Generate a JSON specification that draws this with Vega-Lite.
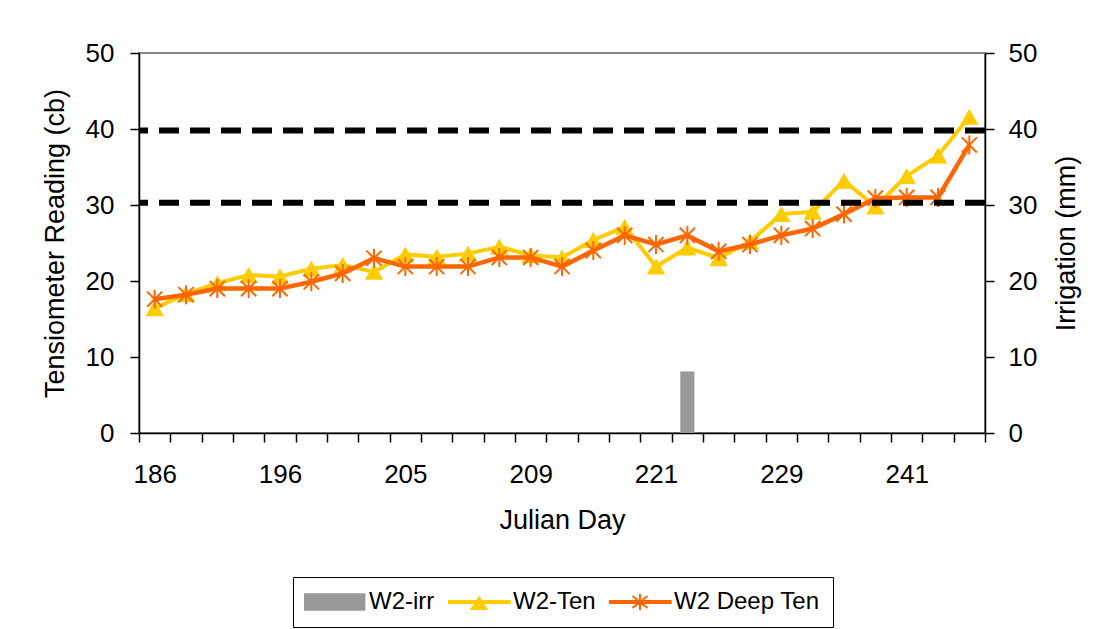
{
  "$schema": "https://vega.github.io/schema/vega-lite/v6.json",
  "width": 846,
  "height": 380,
  "autosize": {"type": "none"},
  "padding": {"left": 139, "top": 53, "right": 122, "bottom": 196},
  "background": "white",
  "config": {
    "font": "Liberation Sans",
    "view": {"stroke": "#888888", "strokeWidth": 2},
    "axis": {
      "domainColor": "#000000", "domainWidth": 1.5,
      "tickColor": "#000000", "tickWidth": 1.5, "tickSize": 9,
      "labelFont": "Liberation Sans", "labelFontSize": 26, "labelColor": "#000000",
      "titleFont": "Liberation Sans", "titleFontSize": 27, "titleFontWeight": "normal", "titleColor": "#000000",
      "grid": false
    },
    "axisX": {
      "tickBand": "extent", "labelAngle": 0, "labelPadding": 19, "titlePadding": 20, "labelOverlap": false,
      "labelExpr": "indexof([186,196,205,209,221,229,241], datum.value) >= 0 ? datum.label : ''"
    },
    "axisLeft": {"labelPadding": 16, "titlePadding": 16},
    "axisRight": {"labelPadding": 14, "titlePadding": 17}
  },
  "datasets": {
    "ten": [
      {"day": 186, "series": "W2-Ten", "value": 16.4},
      {"day": 188, "series": "W2-Ten", "value": 18.3},
      {"day": 191, "series": "W2-Ten", "value": 19.7},
      {"day": 193, "series": "W2-Ten", "value": 20.8},
      {"day": 196, "series": "W2-Ten", "value": 20.6},
      {"day": 198, "series": "W2-Ten", "value": 21.6},
      {"day": 200, "series": "W2-Ten", "value": 22.1},
      {"day": 203, "series": "W2-Ten", "value": 21.2},
      {"day": 205, "series": "W2-Ten", "value": 23.5},
      {"day": 206, "series": "W2-Ten", "value": 23.2},
      {"day": 207, "series": "W2-Ten", "value": 23.6},
      {"day": 208, "series": "W2-Ten", "value": 24.5},
      {"day": 209, "series": "W2-Ten", "value": 23.4},
      {"day": 212, "series": "W2-Ten", "value": 23.1},
      {"day": 215, "series": "W2-Ten", "value": 25.4},
      {"day": 218, "series": "W2-Ten", "value": 27.1},
      {"day": 221, "series": "W2-Ten", "value": 21.9},
      {"day": 223, "series": "W2-Ten", "value": 24.4},
      {"day": 225, "series": "W2-Ten", "value": 23.0},
      {"day": 227, "series": "W2-Ten", "value": 25.2},
      {"day": 229, "series": "W2-Ten", "value": 28.8},
      {"day": 232, "series": "W2-Ten", "value": 29.1},
      {"day": 235, "series": "W2-Ten", "value": 33.2},
      {"day": 238, "series": "W2-Ten", "value": 29.8},
      {"day": 241, "series": "W2-Ten", "value": 33.8},
      {"day": 243, "series": "W2-Ten", "value": 36.5},
      {"day": 245, "series": "W2-Ten", "value": 41.6},
      {"day": 186, "series": "W2 Deep Ten", "value": 17.6},
      {"day": 188, "series": "W2 Deep Ten", "value": 18.2},
      {"day": 191, "series": "W2 Deep Ten", "value": 19.0},
      {"day": 193, "series": "W2 Deep Ten", "value": 19.0},
      {"day": 196, "series": "W2 Deep Ten", "value": 19.0},
      {"day": 198, "series": "W2 Deep Ten", "value": 19.9},
      {"day": 200, "series": "W2 Deep Ten", "value": 21.0},
      {"day": 203, "series": "W2 Deep Ten", "value": 23.0},
      {"day": 205, "series": "W2 Deep Ten", "value": 21.9},
      {"day": 206, "series": "W2 Deep Ten", "value": 21.9},
      {"day": 207, "series": "W2 Deep Ten", "value": 21.9},
      {"day": 208, "series": "W2 Deep Ten", "value": 23.1},
      {"day": 209, "series": "W2 Deep Ten", "value": 23.1},
      {"day": 212, "series": "W2 Deep Ten", "value": 21.9},
      {"day": 215, "series": "W2 Deep Ten", "value": 24.0},
      {"day": 218, "series": "W2 Deep Ten", "value": 26.0},
      {"day": 221, "series": "W2 Deep Ten", "value": 24.8},
      {"day": 223, "series": "W2 Deep Ten", "value": 26.0},
      {"day": 225, "series": "W2 Deep Ten", "value": 23.9},
      {"day": 227, "series": "W2 Deep Ten", "value": 24.8},
      {"day": 229, "series": "W2 Deep Ten", "value": 26.0},
      {"day": 232, "series": "W2 Deep Ten", "value": 26.9},
      {"day": 235, "series": "W2 Deep Ten", "value": 28.8},
      {"day": 238, "series": "W2 Deep Ten", "value": 30.9},
      {"day": 241, "series": "W2 Deep Ten", "value": 31.0},
      {"day": 243, "series": "W2 Deep Ten", "value": 31.0},
      {"day": 245, "series": "W2 Deep Ten", "value": 37.9}
    ],
    "irr": [
      {"day": 223, "series": "W2-irr", "value": 8.1}
    ],
    "thr": [
      {"level": "upper", "value": 39.8},
      {"level": "lower", "value": 30.3}
    ]
  },
  "layer": [
    {
      "data": {"name": "irr"},
      "mark": {"type": "bar", "color": "#999999", "width": {"band": 0.45}},
      "encoding": {
        "x": {"field": "day", "type": "ordinal", "title": "Julian Day", "scale": {"paddingInner": 0, "paddingOuter": 0}},
        "y": {"field": "value", "type": "quantitative", "title": "Irrigation (mm)", "scale": {"domain": [0, 50], "nice": false},
              "axis": {"orient": "right", "values": [0, 10, 20, 30, 40, 50], "titleAngle": -90, "titleBaseline": "top"}}
      }
    },
    {
      "layer": [
        {
          "data": {"name": "ten"},
          "transform": [{"filter": "datum.series === 'W2-Ten'"}],
          "mark": {"type": "line", "color": "#FFCC00", "strokeWidth": 4},
          "encoding": {
            "x": {"field": "day", "type": "ordinal", "title": "Julian Day", "scale": {"paddingInner": 0, "paddingOuter": 0}},
            "y": {"field": "value", "type": "quantitative", "title": "Tensiometer Reading (cb)", "scale": {"domain": [0, 50], "nice": false},
                  "axis": {"orient": "left", "values": [0, 10, 20, 30, 40, 50]}}
          }
        },
        {
          "data": {"name": "ten"},
          "transform": [{"filter": "datum.series === 'W2-Ten'"}],
          "mark": {"type": "point", "shape": "triangle-up", "filled": true, "color": "#FFCC00", "size": 340, "opacity": 1},
          "encoding": {
            "x": {"field": "day", "type": "ordinal", "title": "Julian Day", "scale": {"paddingInner": 0, "paddingOuter": 0}},
            "y": {"field": "value", "type": "quantitative", "title": "Tensiometer Reading (cb)", "scale": {"domain": [0, 50], "nice": false},
                  "axis": {"orient": "left", "values": [0, 10, 20, 30, 40, 50]}}
          }
        },
        {
          "data": {"name": "ten"},
          "transform": [{"filter": "datum.series === 'W2 Deep Ten'"}],
          "mark": {"type": "line", "color": "#FF6600", "strokeWidth": 4.5},
          "encoding": {
            "x": {"field": "day", "type": "ordinal", "title": "Julian Day", "scale": {"paddingInner": 0, "paddingOuter": 0}},
            "y": {"field": "value", "type": "quantitative", "title": "Tensiometer Reading (cb)", "scale": {"domain": [0, 50], "nice": false},
                  "axis": {"orient": "left", "values": [0, 10, 20, 30, 40, 50]}}
          }
        },
        {
          "data": {"name": "ten"},
          "transform": [{"filter": "datum.series === 'W2 Deep Ten'"}],
          "mark": {"type": "point", "shape": "M0,-1V1M-0.8,-0.8L0.8,0.8M-0.8,0.8L0.8,-0.8", "filled": false, "color": "#FF6600", "strokeWidth": 2, "size": 360, "opacity": 1},
          "encoding": {
            "x": {"field": "day", "type": "ordinal", "title": "Julian Day", "scale": {"paddingInner": 0, "paddingOuter": 0}},
            "y": {"field": "value", "type": "quantitative", "title": "Tensiometer Reading (cb)", "scale": {"domain": [0, 50], "nice": false},
                  "axis": {"orient": "left", "values": [0, 10, 20, 30, 40, 50]}}
          }
        },
        {
          "data": {"name": "thr"},
          "mark": {"type": "rule", "color": "#000000", "strokeWidth": 6, "strokeDash": [20, 11]},
          "encoding": {
            "y": {"field": "value", "type": "quantitative", "title": "Tensiometer Reading (cb)", "scale": {"domain": [0, 50], "nice": false},
                  "axis": {"orient": "left", "values": [0, 10, 20, 30, 40, 50]}}
          }
        },
        {
          "data": {"name": "ten"},
          "transform": [{"filter": "datum.series === 'legend-only'"}],
          "mark": {"type": "point", "filled": true, "strokeWidth": 2, "size": 400, "opacity": 1},
          "encoding": {
            "x": {"field": "day", "type": "ordinal", "title": "Julian Day", "scale": {"paddingInner": 0, "paddingOuter": 0}},
            "y": {"field": "value", "type": "quantitative", "title": "Tensiometer Reading (cb)", "scale": {"domain": [0, 50], "nice": false},
                  "axis": {"orient": "left", "values": [0, 10, 20, 30, 40, 50]}},
            "shape": {
              "field": "series", "type": "nominal",
              "scale": {"domain": ["W2-irr", "W2-Ten", "W2 Deep Ten"], "range": ["M-1.3,-0.77H4.64V0.77H-1.3Z", "M-1.3,-0.1H4.77V0.1H-1.3ZM0.95,0.7L2.45,0.7L1.7,-0.45Z", "M-1.3,-0.1H4.77V0.1H-1.3ZM1.7,-0.8V0.8M0.95,-0.6L2.45,0.6M0.95,0.6L2.45,-0.6"]},
              "legend": {
                "orient": "none", "legendX": 154, "legendY": 524, "direction": "horizontal", "title": null,
                "padding": 13, "strokeColor": "#000000", "fillColor": "#ffffff",
                "labelFont": "Liberation Sans", "labelFontSize": 24, "labelColor": "#000000",
                "symbolSize": 400, "labelOffset": 39, "columnPadding": 10, "symbolStrokeWidth": 2, "symbolOpacity": 1
              }
            },
            "fill": {
              "field": "series", "type": "nominal",
              "scale": {"domain": ["W2-irr", "W2-Ten", "W2 Deep Ten"], "range": ["#999999", "#FFCC00", "#FF6600"]}
            },
            "stroke": {
              "field": "series", "type": "nominal",
              "scale": {"domain": ["W2-irr", "W2-Ten", "W2 Deep Ten"], "range": ["#999999", "#FFCC00", "#FF6600"]}
            }
          }
        }
      ]
    }
  ],
  "resolve": {"scale": {"y": "independent"}}
}
